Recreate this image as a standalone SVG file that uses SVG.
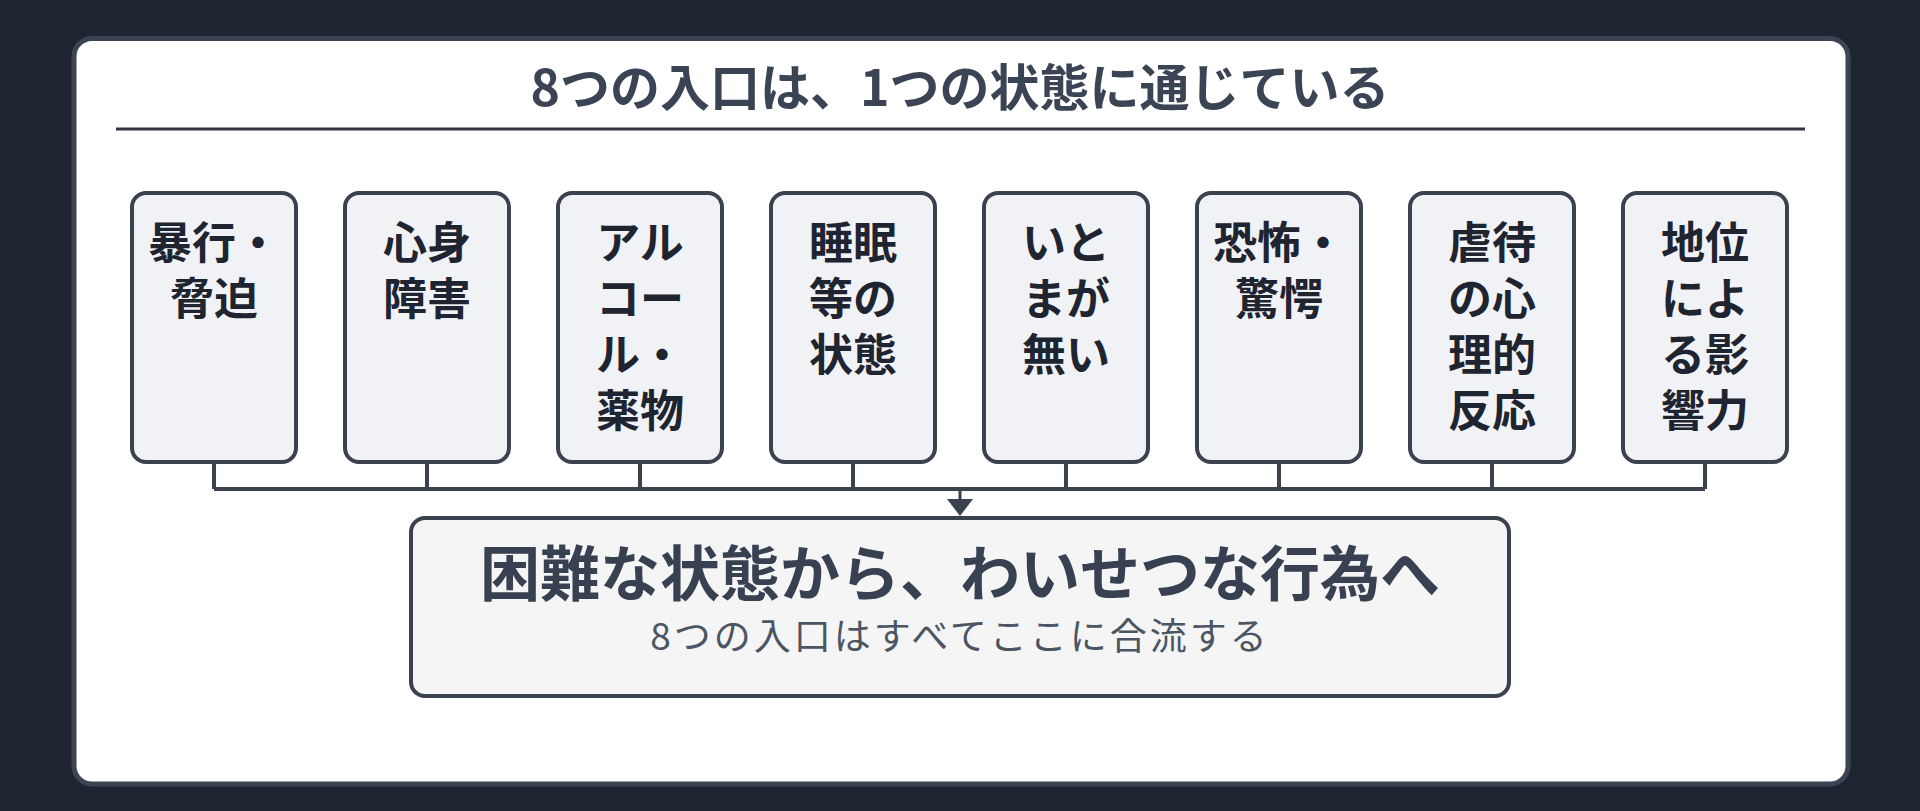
<svg xmlns="http://www.w3.org/2000/svg" width="1920" height="811" viewBox="0 0 1920 811">
<style>
.title{font-family:"Noto Sans CJK JP","Noto Sans",sans-serif;font-weight:700;font-size:50px;fill:#3a4454;text-anchor:middle}
.box{fill:#f0f2f6;stroke:#3a4250;stroke-width:4}
.lbl{font-family:"Noto Sans CJK JP","Noto Sans",sans-serif;font-weight:700;font-size:44px;fill:#1f2530;text-anchor:middle}
.conn{fill:none;stroke:#3a4250;stroke-width:4}
.main{font-family:"Noto Sans CJK JP","Noto Sans",sans-serif;font-weight:700;font-size:60px;fill:#374151;text-anchor:middle}
.sub{font-family:"Noto Sans CJK JP","Noto Sans",sans-serif;font-weight:400;font-size:37px;fill:#4b5563;text-anchor:middle;letter-spacing:3px}
</style>
<rect x="0" y="0" width="1920" height="811" fill="#1e2430"/>
<g id="card">
<rect x="74" y="38.5" width="1774" height="745.5" rx="18" fill="#ffffff" stroke="#3b4453" stroke-width="5"/>
<text class="title" x="960" y="106">8つの入口は、1つの状態に通じている</text>
<line x1="116" y1="129" x2="1805" y2="129" stroke="#2f3642" stroke-width="3"/>
</g>
<g id="connectors">
<path class="conn" d="M214,462 V489 M427,462 V489 M640,462 V489 M853,462 V489 M1066,462 V489 M1279,462 V489 M1492,462 V489 M1705,462 V489 M214,489 H1705"/>
<line x1="960" y1="489" x2="960" y2="502" stroke="#3a4250" stroke-width="3"/>
<path d="M947,499 L973,499 L960,516 Z" fill="#3a4250"/>
</g>
<g id="n1"><rect class="box" x="132" y="193" width="164" height="269" rx="14"/>
<text class="lbl" x="214" y="259">暴行・</text><text class="lbl" x="214" y="315">脅迫</text></g>
<g id="n2"><rect class="box" x="345" y="193" width="164" height="269" rx="14"/>
<text class="lbl" x="427" y="259">心身</text><text class="lbl" x="427" y="315">障害</text></g>
<g id="n3"><rect class="box" x="558" y="193" width="164" height="269" rx="14"/>
<text class="lbl" x="640" y="259">アル</text><text class="lbl" x="640" y="315">コー</text><text class="lbl" x="640" y="371">ル・</text><text class="lbl" x="640" y="427">薬物</text></g>
<g id="n4"><rect class="box" x="771" y="193" width="164" height="269" rx="14"/>
<text class="lbl" x="853" y="259">睡眠</text><text class="lbl" x="853" y="315">等の</text><text class="lbl" x="853" y="371">状態</text></g>
<g id="n5"><rect class="box" x="984" y="193" width="164" height="269" rx="14"/>
<text class="lbl" x="1066" y="259">いと</text><text class="lbl" x="1066" y="315">まが</text><text class="lbl" x="1066" y="371">無い</text></g>
<g id="n6"><rect class="box" x="1197" y="193" width="164" height="269" rx="14"/>
<text class="lbl" x="1279" y="259">恐怖・</text><text class="lbl" x="1279" y="315">驚愕</text></g>
<g id="n7"><rect class="box" x="1410" y="193" width="164" height="269" rx="14"/>
<text class="lbl" x="1492" y="259">虐待</text><text class="lbl" x="1492" y="315">の心</text><text class="lbl" x="1492" y="371">理的</text><text class="lbl" x="1492" y="427">反応</text></g>
<g id="n8"><rect class="box" x="1623" y="193" width="164" height="269" rx="14"/>
<text class="lbl" x="1705" y="259">地位</text><text class="lbl" x="1705" y="315">によ</text><text class="lbl" x="1705" y="371">る影</text><text class="lbl" x="1705" y="427">響力</text></g>
<g id="target"><rect x="411" y="518" width="1098" height="178" rx="14" fill="#f5f5f5" stroke="#3a4250" stroke-width="4"/>
<text class="main" x="960" y="596">困難な状態から、わいせつな行為へ</text>
<text class="sub" x="960" y="650">8つの入口はすべてここに合流する</text></g>
</svg>
